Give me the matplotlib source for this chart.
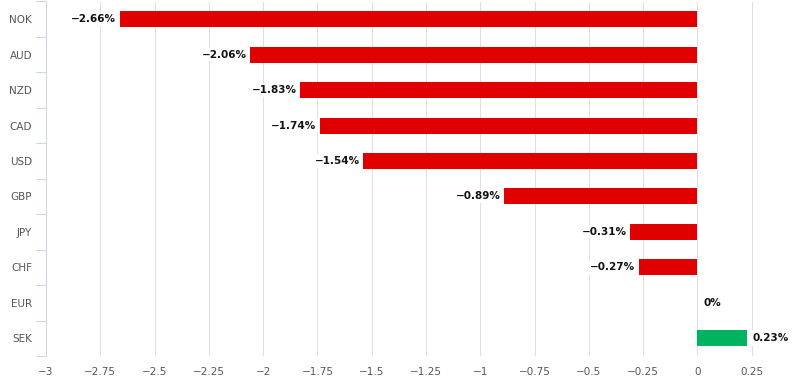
import matplotlib.pyplot as plt
import numpy as np

currencies = ['NOK', 'AUD', 'NZD', 'CAD', 'USD', 'GBP', 'JPY', 'CHF', 'EUR', 'SEK']
changes = [-2.66, -2.06, -1.83, -1.74, -1.54, -0.89, -0.31, -0.27, 0.0, 0.23]
xticks = [-3, -2.75, -2.5, -2.25, -2, -1.75, -1.5, -1.25, -1, -0.75, -0.5, -0.25, 0, 0.25]

plt.rcParams['font.family'] = ['DejaVu Sans']
plt.rcParams['axes.unicode_minus'] = True

fig = plt.figure(figsize=(7.93, 3.84), dpi=100)
ax = fig.add_axes([46 / 793, 28 / 384, 1 - 46 / 793, 354.5 / 384])

pos = np.arange(len(currencies))
colors = ['#e00000' if v < 0 else '#00b35e' for v in changes]
ax.barh(pos, changes, height=0.45, color=colors, zorder=3)

def fmt(v):
  s = ('%.2f' % v).rstrip('0').rstrip('.') if v != 0 else '0'
  return s.replace('-', '\u2212') + '%'

for p, v in zip(pos, changes):
  if v < 0:
    ax.annotate(fmt(v), (v, p), xytext=(-2.5, 0), textcoords='offset points',
                ha='right', va='center', fontsize=7.5, fontweight='bold', color='#111111',
                bbox=dict(boxstyle='square,pad=0.15', fc='white', ec='none'), zorder=4)
  else:
    ax.annotate(fmt(v), (v, p), xytext=(4, 0), textcoords='offset points',
                ha='left', va='center', fontsize=7.5, fontweight='bold', color='#111111',
                bbox=dict(boxstyle='square,pad=0.3', fc='white', ec='none'), zorder=4)

ax.set_xlim(-3, 0.44)
ax.set_ylim(len(currencies) - 0.5, -0.5)
ax.set_xticks(xticks)
ax.set_xticklabels([('%g' % t).replace('-', '\u2212') for t in xticks])
ax.set_yticks(pos)
ax.set_yticklabels(currencies)
ax.set_yticks(np.arange(len(currencies) + 1) - 0.5, minor=True)

ax.grid(axis='x', color='#e0e0e0', linewidth=0.75, zorder=0)
for side in ['top', 'right', 'bottom']:
  ax.spines[side].set_visible(False)
ax.spines['left'].set_color('#ccd6eb')
ax.spines['left'].set_linewidth(0.75)
ax.tick_params(axis='y', which='major', length=0, pad=10, labelsize=7.5, labelcolor='#555555')
ax.tick_params(axis='y', which='minor', length=7, color='#ccd6eb', width=0.75)
ax.tick_params(axis='x', length=0, pad=8, labelsize=7.5, labelcolor='#555555')

fig.savefig('out.png', dpi=100)
